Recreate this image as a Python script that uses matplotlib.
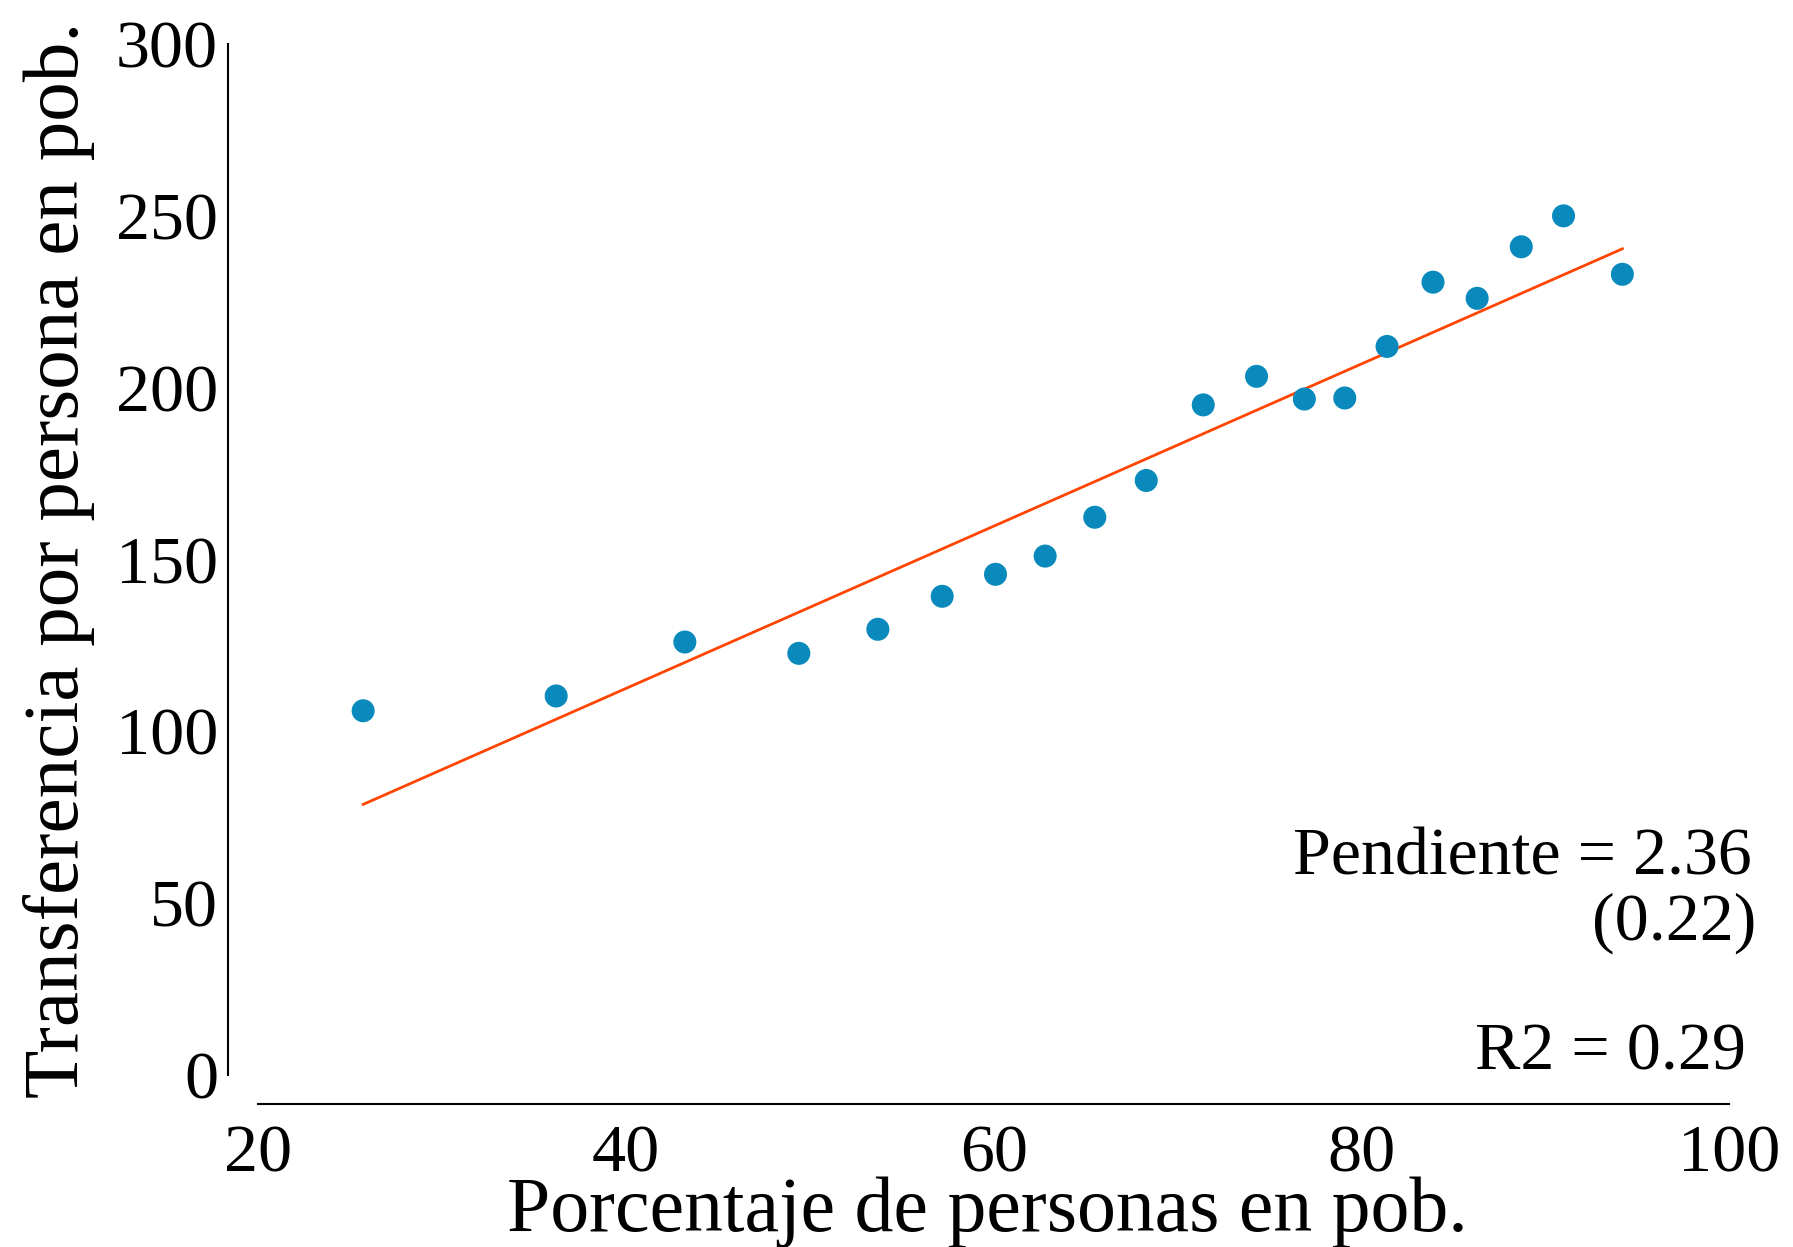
import matplotlib
matplotlib.use("Agg")
import matplotlib.pyplot as plt
import numpy as np

# ---- data ----
pct_personas = [25.7, 36.2, 43.2, 49.4, 53.7, 57.2, 60.1, 62.8, 65.5, 68.3,
                71.4, 74.3, 76.9, 79.1, 81.4, 83.9, 86.3, 88.7, 91.0, 94.2]
transferencia = [106, 110.3, 126, 122.7, 129.7, 139.3, 145.7, 151, 162.3, 173,
                 195, 203.3, 196.7, 197, 212, 230.7, 226, 241, 250, 233]
slope = 2.36
intercept = 18.1
x_ticks = [20, 40, 60, 80, 100]
y_ticks = [0, 50, 100, 150, 200, 250, 300]
xlabel = "Porcentaje de personas en pob."
ylabel = "Transferencia por persona en pob."
ann_slope = "Pendiente = 2.36"
ann_se = "(0.22)"
ann_r2 = "R2 = 0.29"

plt.rcParams['font.family'] = ['Liberation Serif', 'DejaVu Serif']

fig = plt.figure(figsize=(17.93, 12.47), dpi=100)
ax = fig.add_axes([0.1441, 0.1379, 0.8202, 0.8268])

ax.scatter(pct_personas, transferencia, s=275, color='#0A8ABC', edgecolors='none', zorder=3)
xl = np.array([min(pct_personas), max(pct_personas)])
ax.plot(xl, intercept + slope * xl, color='#FF4500', lw=2, zorder=2)

ax.set_xlim(20, 100)
ax.set_ylim(0, 300)
ax.set_xticks(x_ticks)
ax.set_yticks(y_ticks)
ax.tick_params(axis='both', length=0, labelsize=49)
ax.tick_params(axis='y', pad=7)
ax.tick_params(axis='x', pad=15)

for s in ['top', 'right']:
    ax.spines[s].set_visible(False)
ax.spines['left'].set_position(('outward', 22))
ax.spines['bottom'].set_position(('outward', 20.5))
ax.spines['left'].set_linewidth(1.5)
ax.spines['bottom'].set_linewidth(1.5)

ax.set_xlabel(xlabel, fontsize=56)
ax.set_ylabel(ylabel, fontsize=57)
ax.xaxis.set_label_coords(0.4954, -0.098)
ax.yaxis.set_label_coords(-0.111, 0.5)

ax.text(101.26, 58.3, ann_slope, ha='right', va='baseline', fontsize=49)
ax.text(101.48, 39.3, ann_se, ha='right', va='baseline', fontsize=49)
ax.text(100.94, 1.7, ann_r2, ha='right', va='baseline', fontsize=49)

fig.savefig("out.png", dpi=100)
